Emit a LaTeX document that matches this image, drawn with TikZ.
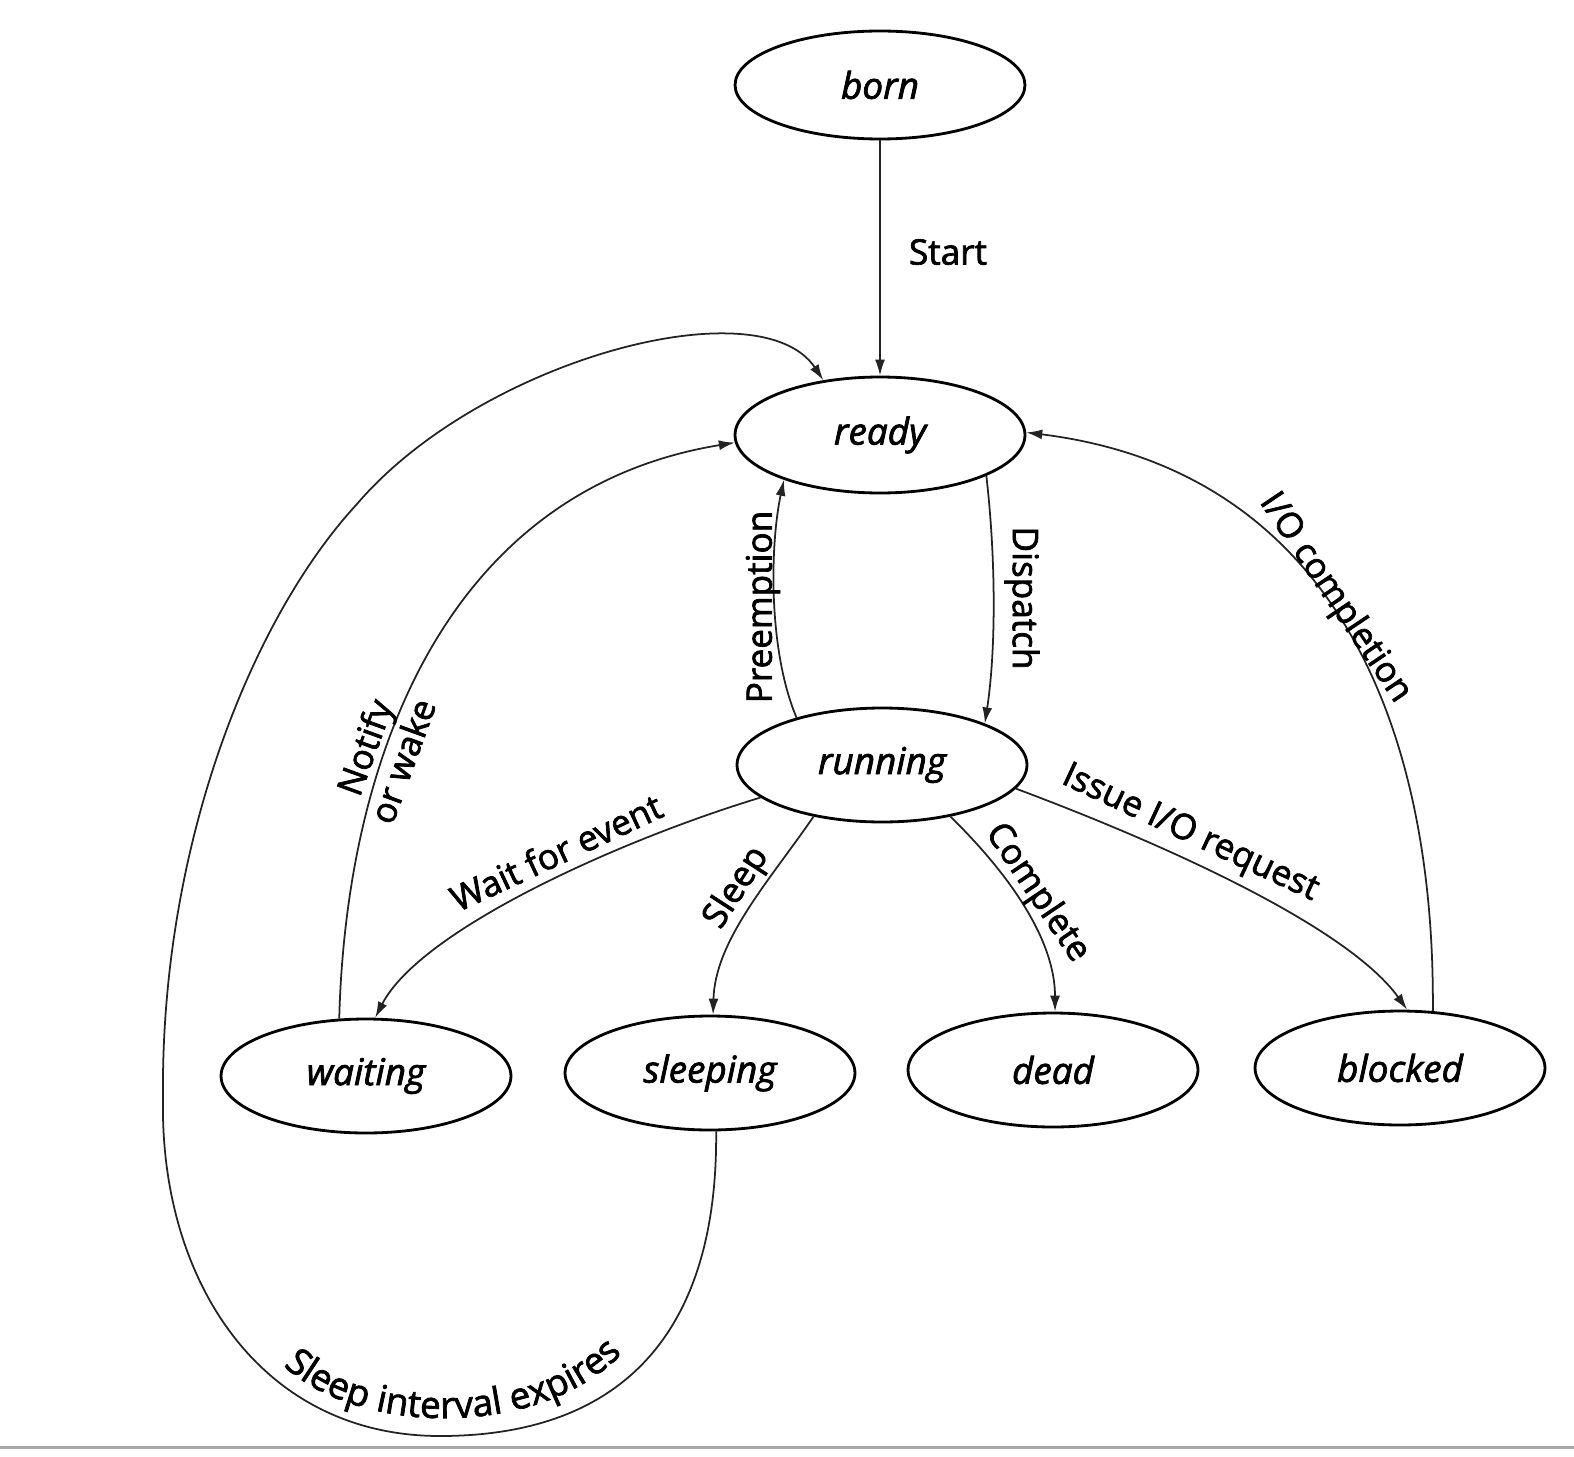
\documentclass[tikz,border=0pt]{standalone}
\usepackage{fontspec}
\setmainfont{Open Sans}[FakeBold=2]
\usetikzlibrary{shapes.geometric, arrows.meta, decorations.text}
\definecolor{rulegray}{RGB}{168,168,168}
\definecolor{ink}{RGB}{35,35,35}
\newcommand{\nodefnt}{\fontsize{21}{25}\selectfont\itshape}
\newcommand{\lblfnt}{\fontsize{20}{23}\selectfont}
\newcommand{\curvefnt}{\fontsize{21}{24}\selectfont}
\begin{document}
\begin{tikzpicture}[x=0.02cm, y=-0.02cm,
  stnode/.style={draw=black, line width=1.6pt, ellipse, minimum width=5.8cm,
    minimum height=2.28cm, inner sep=0pt, font=\nodefnt},
  conn/.style={draw=ink, line width=1pt, -{Latex[length=0.32cm,width=0.2cm]}},
  lbl/.style={font=\lblfnt, inner sep=1pt}]
\useasboundingbox (0,0) rectangle (1574,1456);
\fill[rulegray] (0,1445.5) rectangle (1574,1448.5);

\node[stnode, minimum height=2.16cm] (born) at (880,85) {born};
\node[stnode, minimum height=2.32cm] (ready) at (880,435) {ready};
\node[stnode] (running) at (882,765) {running};
\node[stnode] (waiting) at (366,1076) {waiting};
\node[stnode] (sleeping) at (710,1073) {sleeping};
\node[stnode] (dead) at (1053,1070) {dead};
\node[stnode] (blocked) at (1400,1068) {blocked};

% Start
\draw[conn] (born.south) -- (ready.north);
\node[lbl] (lstart) at (948,252) {Start};

% Dispatch
\draw[conn] (ready.-21.6) .. controls (996,560) and (996,650) .. (running.22);
\node[lbl, rotate=-90] (ldispatch) at (1022,598) {Dispatch};

% Preemption
\draw[conn] (running.151.5) .. controls (768,650) and (770,545) .. (ready.-155);
\node[lbl, rotate=90] (lpreempt) at (763,607) {Preemption};

% Notify or wake
\draw[conn] (waiting.115) .. controls (346,760) and (445,490) .. (ready.183);
\node[lbl, rotate=70, align=center] (lnotify) at (383,754) {Notify\\or wake};

% Sleep interval expires
\draw[conn] (sleeping.-84) .. controls (718,1335) and (620,1436) .. (440,1436)
  .. controls (260,1436) and (160,1280) .. (163,1100)
  .. controls (160,850) and (250,620) .. (357,504)
  .. controls (480,360) and (760,285) .. (ready.136);
\path[decorate, decoration={text along path, text align=center,
  text={|\curvefnt|Sleep interval expires}}]
  (258,1330) .. controls (305,1442) and (575,1457) .. (648,1318);

% Wait for event
\draw[conn] (running.195) .. controls (620,840) and (420,930) .. (waiting.81);
\node[lbl, rotate=25] (lwait) at (556,852) {Wait for event};

% Sleep
\draw[conn] (running.-143.5) .. controls (770,880) and (715,940) .. (sleeping.87);
\node[lbl, rotate=57] (lsleep) at (737,888) {Sleep};

% Complete
\draw[conn] (running.-37) .. controls (1010,875) and (1055,940) .. (dead.88);
\node[lbl, rotate=-56] (lcomplete) at (1037,893) {Complete};

% Issue I/O request
\draw[conn] (running.-10) .. controls (1180,850) and (1350,930) .. (blocked.83);
\node[lbl, rotate=-25] (lissue) at (1190,834) {Issue I/O request};

% I/O completion
\draw[conn] (blocked.60) .. controls (1435,720) and (1330,470) .. (ready.1);
\node[lbl, rotate=-56] (liocomp) at (1335,598) {I/O completion};
\end{tikzpicture}
\end{document}
